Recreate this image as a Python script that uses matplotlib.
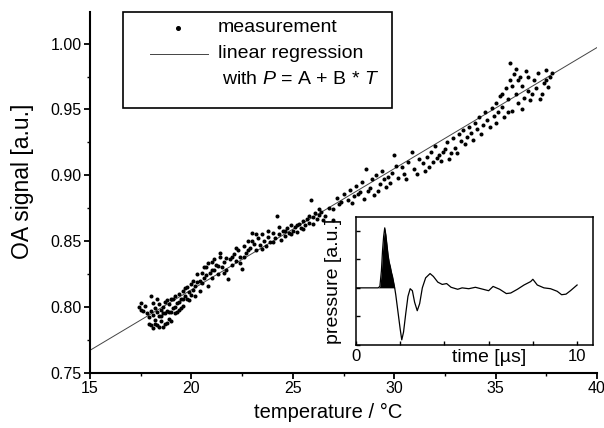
import numpy as np
import matplotlib
matplotlib.use('Agg')
from matplotlib import pyplot as plt
from matplotlib.patches import Rectangle
from matplotlib.lines import Line2D

plt.rcParams['font.family'] = 'Liberation Sans'
plt.rcParams['mathtext.fontset'] = 'custom'
plt.rcParams['mathtext.rm'] = 'Liberation Sans'
plt.rcParams['mathtext.it'] = 'Liberation Sans:italic'

# measurement: temperature [degC] vs OA signal [a.u.]
temp_c = [
    17.4, 17.5, 17.6, 17.8, 17.9, 18.0, 18.0, 18.1, 18.1, 18.2,
    18.2, 18.3, 18.3, 18.4, 18.4, 18.5, 18.5, 18.6, 18.6, 18.7,
    18.7, 18.8, 18.8, 18.9, 18.9, 19.0, 19.0, 19.1, 19.2, 19.2,
    19.3, 19.4, 19.4, 19.5, 19.6, 19.6, 19.7, 19.8, 19.9, 19.9,
    20.0, 20.1, 20.2, 20.3, 20.4, 20.5, 20.5, 20.6, 20.7, 20.8,
    20.9, 21.0, 21.0, 21.1, 21.2, 21.3, 21.4, 21.5, 21.6, 21.7,
    21.8, 21.9, 22.0, 22.1, 22.2, 22.3, 22.4, 22.5, 22.6, 22.7,
    22.8, 22.9, 23.0, 23.1, 23.2, 23.3, 23.4, 23.5, 23.6, 23.7,
    23.8, 23.9, 24.0, 24.1, 24.2, 24.3, 24.4, 24.5, 24.6, 24.7,
    24.8, 24.9, 25.0, 25.1, 25.2, 25.3, 25.4, 25.5, 25.6, 25.7,
    25.8, 25.9, 26.0, 26.1, 26.2, 26.3, 26.4, 26.6, 26.8, 27.0,
    27.2, 27.3, 27.5, 27.7, 27.8, 28.0, 28.1, 28.3, 28.4, 28.5,
    28.6, 28.8, 28.9, 29.0, 29.1, 29.3, 29.4, 29.5, 29.6, 29.8,
    29.9, 30.0, 30.2, 30.4, 30.5, 30.7, 30.9, 31.0, 31.2, 31.4,
    31.5, 31.6, 31.8, 31.9, 32.0, 32.2, 32.3, 32.5, 32.6, 32.8,
    32.9, 33.0, 33.2, 33.3, 33.4, 33.6, 33.7, 33.8, 34.0, 34.1,
    34.2, 34.4, 34.5, 34.6, 34.8, 34.9, 35.0, 35.1, 35.2, 35.3,
    35.4, 35.5, 35.6, 35.7, 35.7, 35.8, 35.9, 36.0, 36.0, 36.1,
    36.2, 36.3, 36.4, 36.5, 36.6, 36.7, 36.9, 37.0, 37.1, 37.3,
    37.4, 37.5, 37.6, 37.7,
    # second pass of points in the same range
    17.5, 17.7, 17.9, 18.0, 18.1, 18.2, 18.3, 18.4, 18.5, 18.6,
    18.7, 18.8, 18.9, 19.0, 19.1, 19.2, 19.3, 19.4, 19.5, 19.6,
    19.7, 19.8, 20.0, 20.1, 20.2, 20.3, 20.4, 20.6, 20.7, 20.8,
    21.0, 21.1, 21.3, 21.4, 21.6, 21.7, 22.0, 22.2, 22.4, 22.6,
    22.8, 23.0, 23.2, 23.5, 23.8, 24.0, 24.3, 24.6, 24.9, 25.2,
    25.5, 25.8, 26.0, 26.3, 26.5, 27.0, 27.4, 27.9, 28.2, 28.7,
    29.2, 29.7, 30.1, 30.6, 31.1, 31.7, 32.1, 32.4, 32.7, 33.1,
    33.5, 33.9, 34.3, 34.7, 35.0, 35.3, 35.6, 35.8, 36.1, 36.3,
    36.6, 36.8, 37.2, 37.5, 37.8,
]
oa_signal = [
    0.800, 0.803, 0.797, 0.795, 0.792, 0.808, 0.786, 0.794, 0.784, 0.799,
    0.790, 0.796, 0.786, 0.802, 0.793, 0.789, 0.798, 0.785, 0.800, 0.795,
    0.804, 0.788, 0.797, 0.802, 0.791, 0.806, 0.796, 0.799, 0.795, 0.808,
    0.803, 0.798, 0.810, 0.806, 0.801, 0.812, 0.808, 0.815, 0.805, 0.811,
    0.817, 0.813, 0.808, 0.819, 0.812, 0.826, 0.818, 0.822, 0.830, 0.816,
    0.826, 0.834, 0.822, 0.828, 0.832, 0.825, 0.838, 0.830, 0.834, 0.828,
    0.821, 0.836, 0.832, 0.840, 0.835, 0.843, 0.838, 0.829, 0.846, 0.841,
    0.850, 0.845, 0.856, 0.848, 0.843, 0.852, 0.847, 0.855, 0.850, 0.846,
    0.853, 0.849, 0.856, 0.852, 0.869, 0.855, 0.851, 0.858, 0.854, 0.860,
    0.856, 0.862, 0.858, 0.861, 0.857, 0.863, 0.860, 0.865, 0.862, 0.867,
    0.864, 0.881, 0.868, 0.871, 0.867, 0.870, 0.872, 0.869, 0.875, 0.866,
    0.883, 0.878, 0.886, 0.881, 0.889, 0.884, 0.892, 0.887, 0.895, 0.882,
    0.905, 0.890, 0.897, 0.885, 0.900, 0.893, 0.903, 0.897, 0.891, 0.894,
    0.902, 0.915, 0.898, 0.906, 0.901, 0.910, 0.918, 0.905, 0.912, 0.909,
    0.903, 0.914, 0.918, 0.910, 0.922, 0.915, 0.911, 0.920, 0.925, 0.917,
    0.928, 0.921, 0.931, 0.926, 0.934, 0.929, 0.937, 0.932, 0.940, 0.935,
    0.944, 0.938, 0.948, 0.942, 0.951, 0.945, 0.955, 0.948, 0.960, 0.952,
    0.944, 0.966, 0.958, 0.985, 0.972, 0.949, 0.977, 0.962, 0.981, 0.955,
    0.975, 0.968, 0.959, 0.979, 0.964, 0.957, 0.972, 0.966, 0.978, 0.962,
    0.970, 0.980, 0.967, 0.975,
    # second pass
    0.798, 0.801, 0.787, 0.797, 0.803, 0.787, 0.806, 0.785, 0.793, 0.795,
    0.787, 0.805, 0.796, 0.789, 0.806, 0.800, 0.796, 0.804, 0.799, 0.806,
    0.814, 0.806, 0.809, 0.820, 0.816, 0.825, 0.820, 0.830, 0.824, 0.833,
    0.828, 0.836, 0.831, 0.841, 0.826, 0.837, 0.838, 0.845, 0.833, 0.838,
    0.843, 0.850, 0.855, 0.844, 0.858, 0.849, 0.861, 0.858, 0.855, 0.862,
    0.859, 0.869, 0.863, 0.874, 0.866, 0.874, 0.880, 0.879, 0.886, 0.888,
    0.888, 0.899, 0.907, 0.897, 0.901, 0.906, 0.913, 0.918, 0.912, 0.917,
    0.924, 0.927, 0.931, 0.937, 0.940, 0.962, 0.948, 0.968, 0.972, 0.950,
    0.975, 0.962, 0.958, 0.972, 0.978,
]

# regression line P = A + B*T, end points
fit_T = [15.0, 40.0]
fit_P = [0.767, 0.997]

# inset: OA pressure transient (baseline = 0)
time_us = [0.0, 0.5, 1.0, 1.08, 1.15, 1.2, 1.25, 1.3, 1.35, 1.4, 1.45, 1.5,
           1.55, 1.6, 1.65, 1.7, 1.75, 1.8, 1.9, 2.0, 2.07, 2.15, 2.25, 2.35,
           2.45, 2.55, 2.65, 2.77, 2.88, 3.0, 3.15, 3.35, 3.5, 3.7, 3.9, 4.1,
           4.3, 4.6, 4.8, 5.1, 5.4, 5.7, 6.0, 6.2, 6.5, 6.8, 7.0, 7.3, 7.6,
           7.9, 8.0, 8.2, 8.5, 8.8, 9.1, 9.3, 9.5, 9.7, 9.85, 10.0]
pressure = [0.0, 0.0, 0.0, 0.05, 0.6, 1.3, 1.8, 2.1, 1.85, 1.5, 1.15, 0.9,
            0.75, 0.55, 0.4, 0.2, 0.0, -0.25, -0.85, -1.45, -1.82, -1.55, -0.9, -0.3,
            -0.03, -0.1, -0.5, -0.8, -0.55, 0.0, 0.35, 0.5, 0.4, 0.2, 0.12, 0.15,
            0.02, -0.05, 0.0, -0.03, 0.02, -0.04, -0.1, 0.05, -0.05, -0.2, -0.18, -0.05, 0.1,
            0.22, 0.3, 0.1, 0.0, -0.03, -0.12, -0.24, -0.22, -0.1, 0.0, 0.1]

W, H = 604, 428
fig = plt.figure(figsize=(W / 100, H / 100), dpi=100)

def fpos(x0, y0, x1, y1):
    # pixel box -> figure fraction rect
    return [x0 / W, 1 - y1 / H, (x1 - x0) / W, (y1 - y0) / H]

ax = fig.add_axes(fpos(90, 12, 597, 372.7))
ax.plot(fit_T, fit_P, color='#444444', lw=0.7)
ax.plot(temp_c, oa_signal, 'o', color='black', ms=2.9, mec='none')

ax.set_xlim(15, 40)
ax.set_ylim(0.75, 1.024)
ax.set_xticks([15, 20, 25, 30, 35, 40])
ax.set_xticks([17.5, 22.5, 27.5, 32.5, 37.5], minor=True)
ax.set_yticks([0.75, 0.80, 0.85, 0.90, 0.95, 1.00])
ax.set_yticklabels(['0.75', '0.80', '0.85', '0.90', '0.95', '1.00'])
ax.set_yticks([0.775, 0.825, 0.875, 0.925, 0.975], minor=True)
for s in ['top', 'right']:
    ax.spines[s].set_visible(False)
for s in ['left', 'bottom']:
    ax.spines[s].set_linewidth(1.5)
ax.tick_params(which='major', direction='out', length=4, width=1.3, labelsize=11.5, pad=2)
ax.tick_params(which='minor', direction='out', length=2.5, width=1.0)

ax.set_xlabel('temperature / °C', fontsize=14.5)
ax.set_ylabel('OA signal [a.u.]', fontsize=16.5)
ax.xaxis.set_label_coords((328 - 90) / 507, -0.085)
ax.yaxis.set_label_coords(-0.11, (372.7 - 181) / 360.7)

# legend box drawn by hand
leg = Rectangle((123 / W, 1 - 108 / H), (392 - 123) / W, (108 - 12) / H,
                transform=fig.transFigure, fill=False, lw=1.2, color='black')
fig.patches.append(leg)
fig.add_artist(Line2D([178 / W], [1 - 28 / H], marker='o', ms=2.6, color='black', ls='none'))
fig.add_artist(Line2D([150 / W, 208 / W], [1 - 54 / H, 1 - 54 / H], color='#444444', lw=0.7))
fig.text(218 / W, 1 - 28 / H, 'measurement', fontsize=14, va='center')
fig.text(218 / W, 1 - 54 / H, 'linear regression', fontsize=14, va='center')
fig.text(222 / W, 1 - 80 / H, 'with $P$ = A + B * $T$', fontsize=14, va='center')

# inset
axi = fig.add_axes(fpos(356, 217, 593, 345))
axi.fill_between(time_us[2:17], 0, pressure[2:17], color='black', lw=0)
axi.plot(time_us, pressure, color='black', lw=0.9)
axi.set_xlim(0, 10.72)
axi.set_ylim(-2.0, 2.48)
axi.set_xticks([0, 2, 4, 6, 8, 10])
axi.set_xticklabels(['0', '', '', '', '', '10'])
axi.set_yticks([-2, -1, 0, 1, 2])
axi.set_yticklabels([])
axi.tick_params(direction='in', length=3, width=1, labelsize=12, pad=3)
for s in axi.spines.values():
    s.set_linewidth(1.1)
axi.set_xlabel('time [µs]', fontsize=14)
axi.xaxis.set_label_coords(0.56, -0.03)
axi.set_ylabel('pressure [a.u.]', fontsize=14)
axi.yaxis.set_label_coords(-0.06, 0.5)

plt.savefig('out.png', dpi=100, facecolor='w')
